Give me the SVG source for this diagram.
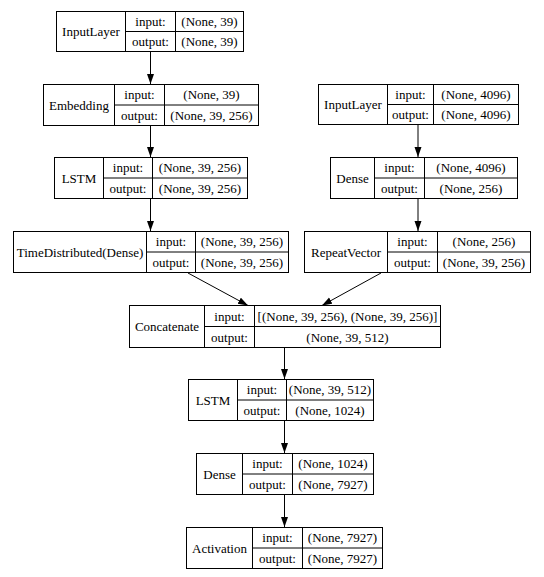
<svg xmlns="http://www.w3.org/2000/svg" width="544" height="577" viewBox="0 0 544 577" font-family="'Liberation Serif', Tinos, 'Times New Roman', Times, serif">
<style>
.b{fill:#fff;stroke:#000;stroke-width:1}
.d{stroke:#000;stroke-width:1;fill:none}
text{font-family:'Liberation Serif',Tinos,'Times New Roman',Times,serif;font-size:13px;fill:#000;text-anchor:middle}
.e{stroke:#000;stroke-width:1;fill:none;marker-end:url(#ah)}
</style>
<defs>
<marker id="ah" markerUnits="userSpaceOnUse" markerWidth="12" markerHeight="10" refX="10" refY="3.5" orient="auto">
<path d="M0,0 L10,3.5 L0,7 Z" fill="#000"/>
</marker>
</defs>
<rect width="544" height="577" fill="#fff"/>
<g id="connectors">
<line class="e" x1="150.5" y1="51" x2="150.5" y2="84"/>
<line class="e" x1="150.5" y1="125" x2="150.5" y2="157"/>
<line class="e" x1="150.5" y1="199" x2="150.5" y2="231"/>
<line class="e" x1="418" y1="124" x2="418" y2="157"/>
<line class="e" x1="418" y1="199" x2="418" y2="231"/>
<line class="e" x1="188" y1="273" x2="248" y2="305.5"/>
<line class="e" x1="381" y1="273" x2="322" y2="305.5"/>
<line class="e" x1="284.5" y1="348" x2="284.5" y2="379"/>
<line class="e" x1="284.5" y1="420" x2="284.5" y2="453"/>
<line class="e" x1="284.5" y1="494" x2="284.5" y2="527"/>
</g>
<g id="n1">
<rect class="b" x="56.5" y="11.5" width="187" height="40"/>
<path class="d" d="M125.5,11.5V51.5M175.5,11.5V51.5M125.5,31.5H243.5"/>
<text x="91" y="36">InputLayer</text>
<text x="150.5" y="26">input:</text><text x="150.5" y="46">output:</text>
<text x="209.5" y="26">(None, 39)</text><text x="209.5" y="46">(None, 39)</text>
</g>
<g id="n2">
<rect class="b" x="43.5" y="84.5" width="215" height="41"/>
<path class="d" d="M114.5,84.5V125.5M164.5,84.5V125.5M114.5,105H258.5"/>
<text x="79" y="109.5">Embedding</text>
<text x="139.5" y="99">input:</text><text x="139.5" y="120">output:</text>
<text x="211.5" y="99">(None, 39)</text><text x="211.5" y="120">(None, 39, 256)</text>
</g>
<g id="n3">
<rect class="b" x="318.5" y="84.5" width="200" height="40"/>
<path class="d" d="M387.5,84.5V124.5M433.5,84.5V124.5M387.5,104.5H518.5"/>
<text x="353" y="109">InputLayer</text>
<text x="410.5" y="99">input:</text><text x="410.5" y="119">output:</text>
<text x="476" y="99">(None, 4096)</text><text x="476" y="119">(None, 4096)</text>
</g>
<g id="n4">
<rect class="b" x="54.5" y="157.5" width="193" height="41"/>
<path class="d" d="M103.5,157.5V198.5M152.5,157.5V198.5M103.5,178H247.5"/>
<text x="79" y="182.5">LSTM</text>
<text x="128" y="172">input:</text><text x="128" y="193">output:</text>
<text x="200" y="172">(None, 39, 256)</text><text x="200" y="193">(None, 39, 256)</text>
</g>
<g id="n5">
<rect class="b" x="330.5" y="157.5" width="187" height="41"/>
<path class="d" d="M374.5,157.5V198.5M424.5,157.5V198.5M374.5,178H517.5"/>
<text x="352.5" y="182.5">Dense</text>
<text x="399.5" y="172">input:</text><text x="399.5" y="193">output:</text>
<text x="471" y="172">(None, 4096)</text><text x="471" y="193">(None, 256)</text>
</g>
<g id="n6">
<rect class="b" x="13.5" y="231.5" width="275" height="41"/>
<path class="d" d="M146.5,231.5V272.5M195.5,231.5V272.5M146.5,252H288.5"/>
<text x="80" y="256.5">TimeDistributed(Dense)</text>
<text x="171" y="246">input:</text><text x="171" y="267">output:</text>
<text x="242" y="246">(None, 39, 256)</text><text x="242" y="267">(None, 39, 256)</text>
</g>
<g id="n7">
<rect class="b" x="304.5" y="231.5" width="226" height="41"/>
<path class="d" d="M387.5,231.5V272.5M437.5,231.5V272.5M387.5,252H530.5"/>
<text x="346" y="256.5">RepeatVector</text>
<text x="412.5" y="246">input:</text><text x="412.5" y="267">output:</text>
<text x="484" y="246">(None, 256)</text><text x="484" y="267">(None, 39, 256)</text>
</g>
<g id="n8">
<rect class="b" x="129.5" y="305.5" width="311" height="42"/>
<path class="d" d="M204.5,305.5V347.5M254.5,305.5V347.5M204.5,326.5H440.5"/>
<text x="167" y="331">Concatenate</text>
<text x="229.5" y="320.5">input:</text><text x="229.5" y="341.5">output:</text>
<text x="347.5" y="320.5">[(None, 39, 256), (None, 39, 256)]</text><text x="347.5" y="341.5">(None, 39, 512)</text>
</g>
<g id="n9">
<rect class="b" x="188.5" y="379.5" width="185" height="41"/>
<path class="d" d="M237.5,379.5V420.5M286.5,379.5V420.5M237.5,400H373.5"/>
<text x="213" y="404.5">LSTM</text>
<text x="262" y="394">input:</text><text x="262" y="415">output:</text>
<text x="330" y="394">(None, 39, 512)</text><text x="330" y="415">(None, 1024)</text>
</g>
<g id="n10">
<rect class="b" x="196.5" y="453.5" width="177" height="41"/>
<path class="d" d="M242.5,453.5V494.5M292.5,453.5V494.5M242.5,474H373.5"/>
<text x="219.5" y="478.5">Dense</text>
<text x="267.5" y="468">input:</text><text x="267.5" y="489">output:</text>
<text x="333" y="468">(None, 1024)</text><text x="333" y="489">(None, 7927)</text>
</g>
<g id="n11">
<rect class="b" x="186.5" y="527.5" width="196" height="41"/>
<path class="d" d="M252.5,527.5V568.5M302.5,527.5V568.5M252.5,548H382.5"/>
<text x="219.5" y="552.5">Activation</text>
<text x="277.5" y="542">input:</text><text x="277.5" y="563">output:</text>
<text x="342.5" y="542">(None, 7927)</text><text x="342.5" y="563">(None, 7927)</text>
</g>
</svg>
